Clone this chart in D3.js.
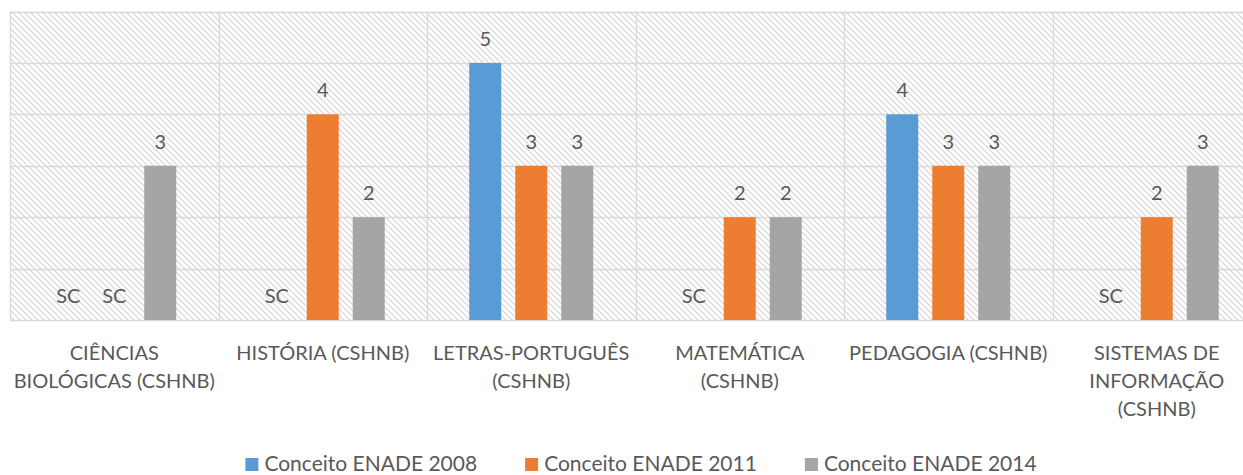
<!DOCTYPE html>
<html>
<head>
<meta charset="utf-8">
<script src="https://cdn.jsdelivr.net/npm/d3@7"></script>
<style>
  html, body { margin: 0; padding: 0; background: #fff; }
  svg { display: block; }
  text { font-family: Lato, "Open Sans", sans-serif; fill: #595959; }
</style>
</head>
<body>
<svg id="chart" width="1243" height="475"></svg>
<script>
const categories = [
  ["CIÊNCIAS", "BIOLÓGICAS (CSHNB)"],
  ["HISTÓRIA (CSHNB)"],
  ["LETRAS-PORTUGUÊS", "(CSHNB)"],
  ["MATEMÁTICA", "(CSHNB)"],
  ["PEDAGOGIA (CSHNB)"],
  ["SISTEMAS DE", "INFORMAÇÃO", "(CSHNB)"]
];
const seriesNames = ["Conceito ENADE 2008", "Conceito ENADE 2011", "Conceito ENADE 2014"];
const enade2008 = [null, null, 5, null, 4, null];
const enade2011 = [null, 4, 3, 2, 3, 2];
const enade2014 = [3, 2, 3, 2, 3, 3];
const yTicks = [0, 1, 2, 3, 4, 5, 6];
const missingLabel = "SC";
const colors = ["#5B9BD5", "#ED7D31", "#A5A5A5"];

const seriesValues = [enade2008, enade2011, enade2014];
const svg = d3.select("#chart");

const plot = { left: 10, right: 1261, top: 11.5, bottom: 320 };
const catKeys = categories.map((c, i) => i);

const x0 = d3.scaleBand().domain(catKeys).range([plot.left, plot.right]).padding(0);
const cw = x0.bandwidth();
const x1 = d3.scaleBand().domain(d3.range(seriesNames.length))
  .range([cw / 2 - 69, cw / 2 + 69])
  .paddingInner(14 / 46).paddingOuter(7 / 46);
const y = d3.scaleLinear().domain([0, 6]).range([plot.bottom, plot.top]);

// hatch pattern
const defs = svg.append("defs");
const pat = defs.append("pattern").attr("id", "hatch")
  .attr("patternUnits", "userSpaceOnUse").attr("width", 6).attr("height", 6);
pat.append("rect").attr("width", 6).attr("height", 6).attr("fill", "#fff");
pat.append("path").attr("d", "M0,0 L6,6 M-1,5 L1,7 M5,-1 L7,1")
  .attr("stroke", "#d4d4d4").attr("stroke-width", 1.1);

svg.append("rect")
  .attr("x", plot.left).attr("y", plot.top)
  .attr("width", plot.right - plot.left).attr("height", plot.bottom - plot.top)
  .attr("fill", "url(#hatch)");

// horizontal gridlines
svg.append("g").selectAll("line").data(yTicks).join("line")
  .attr("x1", plot.left).attr("x2", plot.right)
  .attr("y1", d => Math.round(y(d)) + 0.5).attr("y2", d => Math.round(y(d)) + 0.5)
  .attr("stroke", "#d9d9d9").attr("stroke-width", 1.3);

// vertical gridlines at category boundaries
const bounds = catKeys.map(k => x0(k)).concat([plot.right]);
svg.append("g").selectAll("line").data(bounds).join("line")
  .attr("x1", d => Math.round(d) + 0.5).attr("x2", d => Math.round(d) + 0.5)
  .attr("y1", plot.top).attr("y2", plot.bottom)
  .attr("stroke", "#d9d9d9").attr("stroke-width", 1.3);

// bars
const groups = svg.append("g").selectAll("g").data(catKeys).join("g")
  .attr("transform", k => `translate(${x0(k)},0)`);

const cells = groups.selectAll("g.cell")
  .data(k => seriesValues.map((vals, s) => ({ s, v: vals[k] })))
  .join("g").attr("class", "cell");

cells.filter(d => d.v != null).append("rect")
  .attr("x", d => x1(d.s)).attr("width", x1.bandwidth())
  .attr("y", d => y(d.v)).attr("height", d => y(0) - y(d.v))
  .attr("fill", d => colors[d.s]);

cells.append("text")
  .attr("x", d => x1(d.s) + x1.bandwidth() / 2)
  .attr("y", d => y(d.v == null ? 0 : d.v) - 17)
  .attr("text-anchor", "middle")
  .style("font-size", "20px")
  .text(d => d.v == null ? missingLabel : d.v);

// category labels
const labelG = svg.append("g").selectAll("text").data(catKeys).join("text")
  .attr("text-anchor", "middle")
  .style("font-size", "20px")
  .attr("transform", k => `translate(${x0(k) + cw / 2},360)`);
labelG.selectAll("tspan").data(k => categories[k]).join("tspan")
  .attr("x", 0).attr("y", (d, i) => i * 28).text(d => d);

// legend
const legend = svg.append("g");
const items = legend.selectAll("g").data(seriesNames).join("g");
items.append("rect").attr("width", 13).attr("height", 13).attr("y", -13)
  .attr("fill", (d, i) => colors[i]);
items.append("text").attr("x", 19).attr("y", 0).style("font-size", "21px").text(d => d);
let xpos = 0;
const gap = 48;
const widths = [];
items.each(function () {
  widths.push(this.getBBox().width);
});
items.attr("transform", (d, i) => {
  const t = `translate(${xpos},0)`;
  xpos += widths[i] + gap;
  return t;
});
const total = xpos - gap;
legend.attr("transform", `translate(${641 - total / 2},471)`);
</script>
</body>
</html>
